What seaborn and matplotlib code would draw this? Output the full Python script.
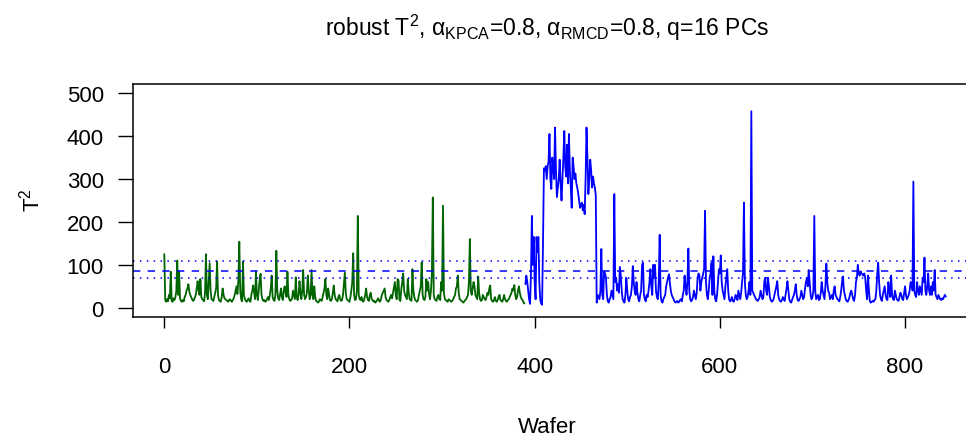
import numpy as np
import pandas as pd
import matplotlib
matplotlib.use("Agg")
import matplotlib.pyplot as plt
import seaborn as sns

# ---- data ----
green_t2 = [
    125, 18, 14, 20, 15, 30, 22, 84, 16, 14,
    22, 18, 25, 40, 110, 30, 84, 22, 16, 14,
    18, 15, 25, 30, 40, 45, 55, 38, 30, 25,
    20, 16, 18, 24, 30, 45, 62, 40, 30, 67,
    25, 20, 18, 15, 35, 125, 30, 20, 60, 104,
    40, 20, 18, 16, 25, 35, 45, 108, 30, 18,
    16, 14, 25, 45, 30, 22, 20, 18, 16, 14,
    18, 20, 16, 14, 18, 22, 30, 40, 50, 32,
    65, 154, 40, 20, 15, 108, 30, 20, 16, 14,
    18, 22, 16, 14, 30, 40, 52, 35, 20, 84,
    30, 18, 40, 65, 79, 30, 20, 16, 18, 14,
    16, 20, 25, 18, 30, 45, 75, 25, 18, 16,
    30, 133, 40, 22, 18, 30, 45, 25, 18, 40,
    50, 35, 25, 84, 30, 20, 16, 18, 22, 40,
    30, 20, 71, 25, 18, 30, 62, 35, 20, 40,
    88, 30, 20, 25, 35, 75, 40, 20, 30, 88,
    30, 20, 50, 25, 16, 14, 12, 15, 20, 18,
    16, 25, 35, 45, 67, 30, 20, 45, 30, 18,
    16, 20, 35, 52, 30, 20, 18, 15, 25, 30,
    20, 16, 18, 30, 55, 82, 35, 20, 18, 16,
    14, 25, 40, 60, 127, 30, 18, 20, 40, 214,
    30, 20, 18, 25, 16, 14, 20, 30, 45, 25,
    18, 16, 30, 35, 20, 18, 14, 16, 12, 15,
    18, 22, 16, 14, 20, 30, 35, 40, 45, 25,
    18, 16, 14, 18, 25, 30, 22, 35, 47, 60,
    30, 20, 67, 63, 18, 16, 45, 60, 80, 40,
    30, 25, 20, 67, 35, 20, 18, 16, 90, 40,
    25, 18, 16, 14, 18, 30, 40, 50, 106, 30,
    20, 18, 25, 67, 40, 60, 30, 20, 40, 80,
    257, 30, 20, 18, 16, 25, 30, 20, 18, 60,
    40, 238, 35, 20, 18, 16, 14, 20, 18, 16,
    14, 16, 20, 25, 30, 45, 50, 75, 35, 20,
    18, 16, 14, 12, 15, 18, 20, 25, 30, 60,
    160, 40, 30, 45, 60, 50, 30, 25, 20, 73,
    35, 20, 16, 18, 30, 25, 20, 18, 25, 35,
    30, 45, 52, 20, 16, 14, 18, 25, 16, 14,
    18, 25, 30, 18, 16, 14, 20, 30, 20, 16,
    14, 18, 20, 25, 30, 35, 45, 40, 53, 30,
    20, 25, 40, 50, 35, 25, 20, 18, 12, 10,
]
blue_t2 = [
    55, 75, 60, 40, 20, 9, 80, 214, 100, 165,
    60, 20, 165, 130, 165, 60, 20, 10, 7, 150,
    325, 320, 330, 300, 330, 340, 405, 300, 277, 350,
    330, 300, 420, 320, 258, 280, 300, 345, 290, 250,
    300, 350, 412, 330, 306, 380, 290, 405, 320, 280,
    233, 350, 330, 300, 313, 290, 280, 267, 250, 233,
    240, 245, 227, 240, 218, 300, 420, 350, 265, 300,
    345, 320, 280, 306, 290, 280, 262, 12, 30, 25,
    20, 40, 137, 30, 20, 85, 80, 70, 30, 15,
    12, 20, 25, 40, 30, 20, 265, 60, 70, 40,
    55, 35, 95, 75, 40, 20, 15, 12, 30, 70,
    40, 20, 15, 25, 30, 50, 97, 60, 40, 30,
    60, 35, 20, 15, 30, 40, 100, 105, 30, 20,
    15, 30, 25, 40, 60, 90, 50, 30, 100, 70,
    100, 40, 25, 20, 60, 170, 30, 15, 12, 20,
    25, 30, 50, 60, 70, 78, 60, 40, 30, 25,
    20, 15, 12, 14, 16, 12, 14, 18, 20, 15,
    30, 40, 75, 50, 30, 60, 138, 40, 20, 15,
    18, 25, 40, 30, 20, 35, 70, 80, 75, 40,
    60, 70, 80, 90, 226, 60, 30, 20, 40, 70,
    80, 105, 30, 120, 40, 20, 15, 30, 60, 90,
    80, 122, 60, 40, 30, 20, 50, 70, 90, 40,
    20, 15, 18, 25, 16, 14, 20, 30, 25, 18,
    40, 30, 20, 35, 60, 80, 245, 60, 30, 20,
    25, 40, 60, 30, 458, 40, 35, 30, 25, 20,
    18, 16, 20, 25, 40, 30, 20, 25, 60, 70,
    40, 30, 70, 50, 25, 18, 14, 16, 20, 30,
    40, 50, 62, 30, 20, 16, 14, 18, 25, 20,
    16, 30, 45, 62, 40, 20, 14, 12, 18, 25,
    30, 40, 55, 30, 18, 16, 20, 25, 40, 30,
    20, 25, 45, 60, 70, 50, 88, 60, 30, 20,
    25, 40, 214, 40, 20, 25, 30, 18, 20, 35,
    60, 40, 30, 20, 50, 103, 60, 40, 35, 20,
    25, 30, 20, 40, 50, 30, 25, 20, 18, 15,
    25, 40, 60, 73, 40, 30, 20, 16, 14, 18,
    25, 35, 40, 30, 20, 16, 30, 60, 70, 100,
    80, 75, 85, 80, 78, 75, 80, 70, 40, 20,
    75, 40, 15, 12, 14, 16, 14, 18, 20, 40,
    80, 105, 60, 30, 20, 16, 30, 40, 50, 30,
    20, 18, 60, 40, 25, 75, 30, 20, 18, 40,
    30, 20, 18, 16, 25, 35, 30, 20, 18, 35,
    50, 30, 20, 25, 30, 40, 60, 50, 40, 294,
    40, 30, 25, 60, 40, 30, 50, 40, 30, 70,
    60, 117, 40, 30, 50, 80, 40, 30, 50, 30,
    60, 40, 88, 30, 25, 20, 30, 25, 20, 18,
    22, 20, 25, 30, 26,
]
green_start = 0
blue_start = len(green_t2)
limit_center = 86
limit_upper = 109
limit_lower = 69
x_ticks = [0, 200, 400, 600, 800]
y_ticks = [0, 100, 200, 300, 400, 500]

df_green = pd.DataFrame({"Wafer": np.arange(green_start, green_start + len(green_t2)), "T2": green_t2})
df_blue = pd.DataFrame({"Wafer": np.arange(blue_start, blue_start + len(blue_t2)), "T2": blue_t2})

sns.set_style("white")
plt.rcParams["font.family"] = ["Liberation Sans", "DejaVu Sans"]
plt.rcParams["mathtext.fontset"] = "custom"
plt.rcParams["mathtext.rm"] = "Liberation Sans"
plt.rcParams["mathtext.it"] = "Liberation Sans"
plt.rcParams["text.color"] = "black"
plt.rcParams["xtick.color"] = "black"
plt.rcParams["ytick.color"] = "black"

fig = plt.figure(figsize=(9.66, 4.39), dpi=100)
ax = fig.add_axes([133 / 966, (439 - 318) / 439, (978 - 133) / 966, (318 - 85) / 439])

sns.lineplot(data=df_green, x="Wafer", y="T2", ax=ax, color="#006400", linewidth=1.3, estimator=None)
sns.lineplot(data=df_blue, x="Wafer", y="T2", ax=ax, color="#0000FF", linewidth=1.3, estimator=None)

ax.axhline(limit_center, color="#0000FF", linestyle=(0, (4.8, 4.8)), linewidth=1.1)
ax.axhline(limit_upper, color="#0000FF", linestyle=(0, (1, 3.5)), linewidth=1.1)
ax.axhline(limit_lower, color="#0000FF", linestyle=(0, (1, 3.5)), linewidth=1.1)

ax.set_xlim(-33.8, 878.8)
ax.set_ylim(-21.5, 521.5)
ax.set_xticks(x_ticks)
ax.set_yticks(y_ticks)
ax.tick_params(axis="both", direction="out", width=1, labelsize=16, colors="black",
               bottom=True, left=True)
ax.tick_params(axis="x", length=8, pad=20)
ax.tick_params(axis="y", length=11, pad=10)
for s in ax.spines.values():
    s.set_color("black")
    s.set_linewidth(1.1)

ax.set_xlabel("")
ax.set_ylabel("")
fig.text(547 / 966, 1 - 428 / 439, "Wafer", ha="center", va="center", fontsize=16)
fig.text(32 / 966, 1 - 200 / 439, "T$^2$", ha="center", va="center", fontsize=16, rotation=90)
fig.text(547 / 966, 1 - 28 / 439,
         "robust T$^2$, α$_{\\mathrm{KPCA}}$=0.8, α$_{\\mathrm{RMCD}}$=0.8, q=16 PCs",
         ha="center", va="center", fontsize=16.5)

fig.savefig("out.png", dpi=100)
